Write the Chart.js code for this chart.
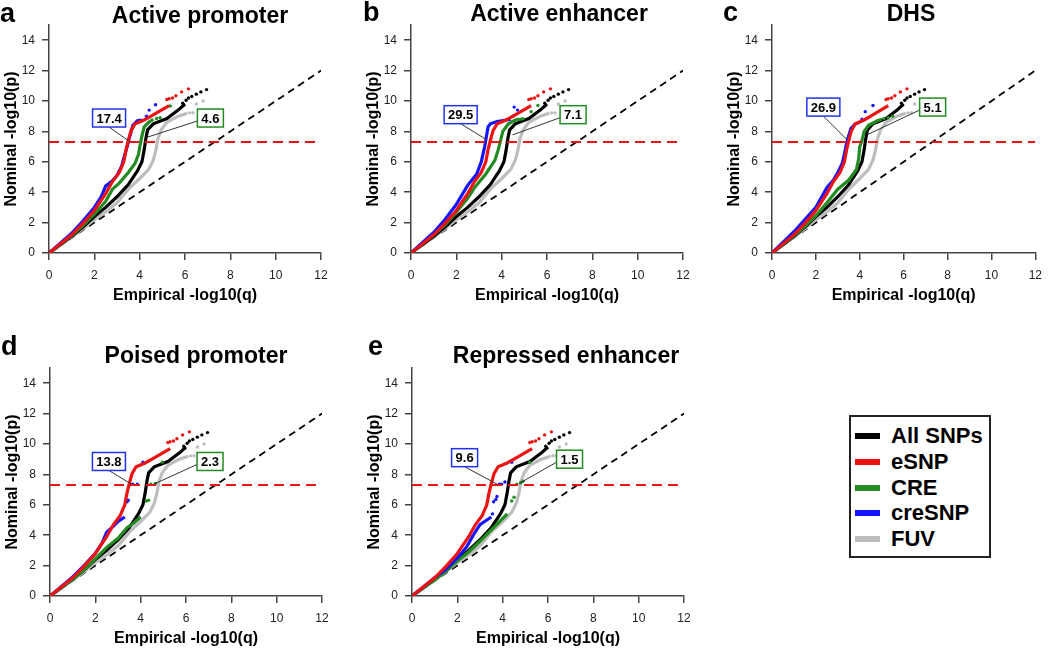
<!DOCTYPE html>
<html>
<head>
<meta charset="utf-8">
<script src="https://cdn.jsdelivr.net/npm/chart.js@4.4.0/dist/chart.umd.min.js"></script>
<style>
body { margin: 0; background: #fff; width: 1050px; height: 650px; overflow: hidden; position: relative; font-family: 'Liberation Sans', Arial, sans-serif; }
.panel { position: absolute; }
#legend { position: absolute; left: 849px; top: 415px; width: 142px; height: 143px; box-sizing: border-box; border: 2px solid #222; background: #fff; }
#legend .row { position: absolute; left: 0; height: 26px; width: 140px; }
#legend .sw { position: absolute; left: 4px; top: 10px; width: 25px; height: 6px; }
#legend .lb { position: absolute; left: 40px; top: 0; font-weight: bold; font-size: 22px; line-height: 26px; color: #000; }
</style>
</head>
<body>
<div class="panel" style="left:0px;top:0px"><canvas id="pa" width="345" height="305"></canvas></div>
<div class="panel" style="left:362px;top:0px"><canvas id="pb" width="345" height="305"></canvas></div>
<div class="panel" style="left:723px;top:0px"><canvas id="pc" width="327" height="305"></canvas></div>
<div class="panel" style="left:1px;top:325px"><canvas id="pd" width="345" height="323"></canvas></div>
<div class="panel" style="left:363px;top:325px"><canvas id="pe" width="345" height="323"></canvas></div>
<div id="legend"></div>
<script>
const xTicks = [0, 2, 4, 6, 8, 10, 12];
const yTicks = [0, 2, 4, 6, 8, 10, 12, 14];
const gwasLevel = 7.3;
const panelLetters = ['a', 'b', 'c', 'd', 'e'];
const panelTitles = ['Active promoter', 'Active enhancer', 'DHS', 'Poised promoter', 'Repressed enhancer'];
const creSnpLabels = ['17.4', '29.5', '26.9', '13.8', '9.6'];
const creLabels = ['4.6', '7.1', '5.1', '2.3', '1.5'];
const seriesNames = ['All SNPs', 'eSNP', 'CRE', 'creSNP', 'FUV'];
const seriesColors = ['#000000', '#ee1313', '#228b22', '#1414ff', '#bdbdbd'];

// same in every panel
const allSnpLine = [[0,0],[0.5,0.55],[1,1.1],[1.5,1.7],[2,2.4],[2.5,3.0],[3,3.7],[3.5,4.5],[3.9,5.4],[4.1,6.0],[4.2,6.8],[4.27,7.5],[4.35,8.1],[4.6,8.5],[5.2,8.85],[5.7,9.4],[6.0,9.8]];
const allSnpTail = [[5.9,9.85],[6.05,10.05],[6.15,10.2],[6.3,10.3],[6.5,10.45],[6.7,10.6],[6.95,10.75]];
const eSnpLine = [[0,0],[0.5,0.6],[1,1.2],[1.5,1.95],[2,2.8],[2.5,3.9],[2.8,4.7],[3.1,5.3],[3.3,6.0],[3.4,6.8],[3.5,7.4],[3.62,8.05],[3.8,8.5],[4.2,8.75],[4.5,9.0],[4.9,9.35],[5.3,9.7]];
const eSnpTail = [[5.2,10.1],[5.3,10.15],[5.45,10.2],[5.6,10.35],[5.85,10.6],[6.15,10.8]];
const fuvLine = [[0,0],[1,1.05],[1.5,1.6],[2,2.2],[2.5,2.7],[3,3.3],[3.5,4.2],[4.0,4.9],[4.4,5.5],[4.6,6.1],[4.72,6.8],[4.8,7.5],[4.95,8.1],[5.2,8.6],[5.7,9.0],[6.1,9.2]];
const fuvTail = [[6.2,9.22],[6.35,9.22],[6.5,9.8],[6.8,10.0]];

// CRE per panel
const creA = [[0,0],[1,1.15],[1.5,1.8],[2,2.55],[2.5,3.4],[2.8,4.2],[3.1,4.6],[3.5,5.3],[3.8,5.9],[3.95,6.5],[4.02,7.1],[4.1,7.7],[4.2,8.3],[4.4,8.6],[4.6,8.8]];
const creTailA = [[4.75,8.85],[4.9,8.9],[5.35,9.67]];
const creB = [[0,0],[1,1.2],[1.5,1.85],[2,2.7],[2.5,3.6],[2.8,4.3],[3.3,5.2],[3.7,6.1],[3.85,6.8],[3.95,7.4],[4.05,8.0],[4.3,8.5],[4.6,8.75],[5.0,8.85]];
const creTailB = [[5.3,9.3],[5.6,9.7]];
const creC = [[0,0],[1,1.15],[1.5,1.75],[2,2.45],[2.5,3.3],[3.0,4.2],[3.5,4.8],[3.85,5.5],[3.95,6.2],[4.0,7.0],[4.1,7.4],[4.2,8.0],[4.4,8.4],[4.8,8.7],[5.0,8.8]];
const creTailC = [[5.1,8.85],[5.3,8.9],[5.5,9.0]];
const creD = [[0,0],[1,1.1],[1.5,1.7],[2,2.45],[2.5,3.2],[3.0,3.8],[3.4,4.5],[3.7,4.8],[4.0,5.2]];
const creTailD = [[4.25,6.25],[4.35,6.3],[4.45,7.35],[4.65,7.4],[4.95,8.8]];
const creE = [[0,0],[1,1.05],[1.5,1.65],[2,2.3],[2.5,2.9],[3.0,3.6],[3.4,4.2],[3.8,4.8],[4.2,5.4]];
const creTailE = [[4.4,6.25],[4.5,6.5],[4.62,7.35],[4.8,7.45],[4.9,7.55],[5.2,8.8]];

// creSNP per panel
const creSnpA = [[0,0],[0.5,0.65],[1,1.3],[1.5,2.1],[2,3.0],[2.3,3.7],[2.5,4.4],[2.8,4.75],[3.0,5.1],[3.2,5.7],[3.35,6.5],[3.45,7.0],[3.55,7.6],[3.7,8.4],[3.9,8.7],[4.1,8.75]];
const creSnpTailA = [[4.3,9.0],[4.42,9.4],[4.7,9.75]];
const creSnpB = [[0,0],[1,1.35],[1.5,2.2],[2,3.2],[2.5,4.45],[2.9,5.2],[3.1,6.0],[3.25,7.0],[3.32,7.6],[3.4,8.3],[3.5,8.5],[3.8,8.65],[4.4,8.8]];
const creSnpTailB = [[4.5,9.0],[4.55,9.6],[4.7,9.4]];
const creSnpC = [[0,0],[1,1.4],[1.5,2.2],[2,3.0],[2.5,4.3],[2.8,4.8],[3.0,5.3],[3.2,5.9],[3.3,6.5],[3.38,7.1],[3.45,7.5],[3.6,8.2],[3.8,8.5],[4.0,8.6]];
const creSnpTailC = [[4.1,8.8],[4.25,9.3],[4.6,9.7]];
const creSnpD = [[0,0],[1,1.25],[1.5,2.0],[2,2.8],[2.3,3.5],[2.5,4.2],[2.8,4.6],[3.0,4.9],[3.3,5.2]];
const creSnpTailD = [[3.4,6.2],[3.45,6.3],[3.65,7.35],[3.85,7.35],[4.1,8.8]];
const creSnpE = [[0,0],[1,1.2],[1.5,1.75],[2,2.5],[2.4,3.2],[2.7,4.0],[3.0,4.7],[3.3,5.0],[3.5,5.2]];
const creSnpTailE = [[3.55,5.4],[3.6,6.2],[3.7,6.35],[3.75,6.55],[3.85,7.35],[3.95,7.35],[4.1,7.5],[4.4,8.8]];

const creLines = [creA, creB, creC, creD, creE];
const creTails = [creTailA, creTailB, creTailC, creTailD, creTailE];
const creSnpLines = [creSnpA, creSnpB, creSnpC, creSnpD, creSnpE];
const creSnpTails = [creSnpTailA, creSnpTailB, creSnpTailC, creSnpTailD, creSnpTailE];

// label box centre and leader target, in axis units
const creSnpBoxAt = [[2.65, 8.88], [2.19, 9.1], [2.34, 9.6], [2.6, 8.85], [2.32, 9.1]];
const creSnpBoxTo = [[3.56, 7.33], [3.35, 7.44], [3.43, 7.44], [3.6, 7.35], [3.76, 7.35]];
const creBoxAt = [[7.12, 8.88], [7.15, 9.1], [7.32, 9.6], [7.06, 8.85], [6.95, 9.0]];
const creBoxTo = [[4.3, 7.6], [4.48, 7.77], [4.32, 7.77], [4.57, 7.35], [4.71, 7.39]];

const canvasIds = ['pa', 'pb', 'pc', 'pd', 'pe'];
const topPad = [25, 25, 25, 43, 43];
const letterX = [0, 1, 0, 0, 5];
const letterY = [22, 21, 21, 30, 30];
const titleX = [200, 197, 188, 195, 203];
const titleY = [23, 21, 21, 38, 38];

const FONT = "'Liberation Sans', Arial, sans-serif";

function pts(arr) {
    return arr.map(function (p) { return { x: p[0], y: p[1] }; });
}

const panelDeco = {
    id: 'panelDeco',
    afterDatasetsDraw(chart, args, opts) {
        const ctx = chart.ctx;
        const xs = chart.scales.x, ys = chart.scales.y;
        ctx.save();
        ctx.font = 'bold 13px ' + FONT;
        opts.boxes.forEach(function (b) {
            const cx = xs.getPixelForValue(b.at[0]);
            const cy = ys.getPixelForValue(b.at[1]);
            const w = Math.round(ctx.measureText(b.text).width + 8);
            const h = 18;
            const tx = xs.getPixelForValue(b.to[0]);
            const ty = ys.getPixelForValue(b.to[1]);
            const sx = b.side === 'bottom' ? cx : cx - w / 2;
            const sy = b.side === 'bottom' ? cy + h / 2 : cy + 3;
            ctx.strokeStyle = '#333';
            ctx.lineWidth = 1;
            ctx.beginPath();
            ctx.moveTo(sx, sy);
            ctx.lineTo(tx, ty);
            ctx.stroke();
            ctx.fillStyle = '#fff';
            ctx.fillRect(cx - w / 2, cy - h / 2, w, h);
            ctx.strokeStyle = b.color;
            ctx.lineWidth = 1.5;
            ctx.strokeRect(cx - w / 2, cy - h / 2, w, h);
            ctx.fillStyle = '#000';
            ctx.textAlign = 'center';
            ctx.textBaseline = 'middle';
            ctx.fillText(b.text, cx, cy + 1);
        });
        ctx.textBaseline = 'alphabetic';
        ctx.textAlign = 'left';
        ctx.font = 'bold 27px ' + FONT;
        ctx.fillText(opts.letter, opts.lx, opts.ly);
        ctx.textAlign = 'center';
        ctx.font = 'bold 23px ' + FONT;
        ctx.fillText(opts.title, opts.tx, opts.ty);
        ctx.restore();
    }
};

function makePanel(i) {
    const canvas = document.getElementById(canvasIds[i]);
    const W = canvas.width;
    const datasets = [
        { data: pts([[0, gwasLevel], [12, gwasLevel]]), showLine: true, borderColor: '#ee1313', borderWidth: 2, borderDash: [10, 6], pointRadius: 0, order: 0 },
        { data: pts(eSnpLine), showLine: true, borderColor: seriesColors[1], borderWidth: 3.2, pointRadius: 0, order: 1 },
        { data: pts(eSnpTail), showLine: false, backgroundColor: seriesColors[1], borderWidth: 0, pointRadius: 1.7, order: 1 },
        { data: pts(creSnpLines[i]), showLine: true, borderColor: seriesColors[3], borderWidth: 3.2, pointRadius: 0, order: 2 },
        { data: pts(creSnpTails[i]), showLine: false, backgroundColor: seriesColors[3], borderWidth: 0, pointRadius: 1.7, order: 2 },
        { data: pts(creLines[i]), showLine: true, borderColor: seriesColors[2], borderWidth: 3.2, pointRadius: 0, order: 3 },
        { data: pts(creTails[i]), showLine: false, backgroundColor: seriesColors[2], borderWidth: 0, pointRadius: 1.7, order: 3 },
        { data: pts(allSnpLine), showLine: true, borderColor: seriesColors[0], borderWidth: 3.2, pointRadius: 0, order: 4 },
        { data: pts(allSnpTail), showLine: false, backgroundColor: seriesColors[0], borderWidth: 0, pointRadius: 1.7, order: 4 },
        { data: pts(fuvLine), showLine: true, borderColor: seriesColors[4], borderWidth: 3.2, pointRadius: 0, order: 5 },
        { data: pts(fuvTail), showLine: false, backgroundColor: seriesColors[4], borderWidth: 0, pointRadius: 1.7, order: 5 },
        { data: pts([[0, 0], [12, 12]]), showLine: true, borderColor: '#000', borderWidth: 1.8, borderDash: [7, 5], pointRadius: 0, order: 6 }
    ];
    new Chart(canvas, {
        type: 'scatter',
        data: { datasets: datasets },
        options: {
            responsive: false,
            animation: false,
            events: [],
            layout: { padding: { left: 0, top: topPad[i], right: W - 321, bottom: 0 } },
            plugins: {
                legend: { display: false },
                tooltip: { enabled: false },
                panelDeco: {
                    letter: panelLetters[i], lx: letterX[i], ly: letterY[i],
                    title: panelTitles[i], tx: titleX[i], ty: titleY[i],
                    boxes: [
                        { text: creSnpLabels[i], at: creSnpBoxAt[i], to: creSnpBoxTo[i], color: '#2233ee', side: 'bottom' },
                        { text: creLabels[i], at: creBoxAt[i], to: creBoxTo[i], color: '#228b22', side: 'left' }
                    ]
                }
            },
            scales: {
                x: {
                    type: 'linear', min: 0, max: 12,
                    afterFit: function (s) { s.height = 52; },
                    afterBuildTicks: function (s) { s.ticks = xTicks.map(function (v) { return { value: v }; }); },
                    ticks: { font: { family: FONT, size: 12 }, color: '#222', padding: 8, maxRotation: 0 },
                    grid: { display: true, drawOnChartArea: false, drawTicks: true, tickLength: 7, color: '#444', lineWidth: 1.5 },
                    border: { display: true, color: '#444', width: 1.5 },
                    title: { display: true, text: 'Empirical -log10(q)', color: '#000', font: { family: FONT, size: 16, weight: 'bold' }, padding: { top: 0, bottom: 0 } }
                },
                y: {
                    type: 'linear', min: 0, max: 15,
                    afterFit: function (s) { s.width = 49; },
                    afterBuildTicks: function (s) { s.ticks = yTicks.map(function (v) { return { value: v }; }); },
                    ticks: { font: { family: FONT, size: 12 }, color: '#222', padding: 7 },
                    grid: { display: true, drawOnChartArea: false, drawTicks: true, tickLength: 7, color: '#444', lineWidth: 1.5 },
                    border: { display: true, color: '#444', width: 1.5 },
                    title: { display: true, text: 'Nominal -log10(p)', color: '#000', font: { family: FONT, size: 16, weight: 'bold' }, padding: { top: 1.5, bottom: 0 } }
                }
            }
        },
        plugins: [panelDeco]
    });
}

for (let i = 0; i < canvasIds.length; i++) {
    makePanel(i);
}

// legend
const legend = document.getElementById('legend');
seriesNames.forEach(function (name, k) {
    const row = document.createElement('div');
    row.className = 'row';
    row.style.top = (6 + k * 25.8) + 'px';
    row.innerHTML = '<div class="sw" style="background:' + seriesColors[k] + '"></div><div class="lb">' + name + '</div>';
    legend.appendChild(row);
});
</script>
</body>
</html>
